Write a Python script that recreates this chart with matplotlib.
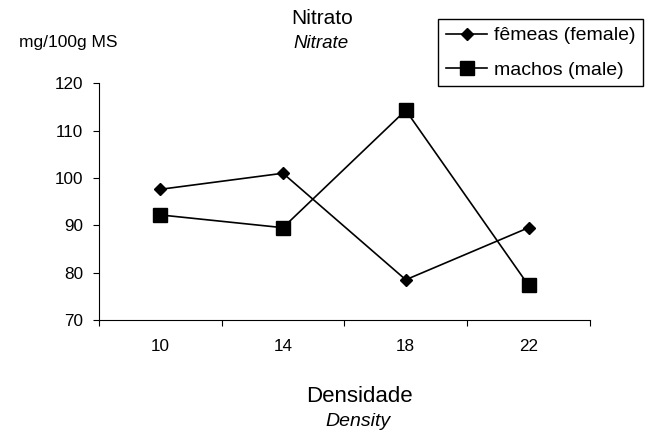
import matplotlib
matplotlib.use("Agg")
import matplotlib.pyplot as plt

plt.rcParams["font.family"] = ["Liberation Sans", "DejaVu Sans"]

# data
densidade = ["10", "14", "18", "22"]
femeas = [97.6, 101.0, 78.5, 89.5]
machos = [92.2, 89.5, 114.3, 77.3]
y_ticks = [70, 80, 90, 100, 110, 120]

W, H = 649, 430
fig = plt.figure(figsize=(W / 100, H / 100), dpi=100)

# axes box in pixels: left 98.7, right 590, top 83.3, bottom 320
L, R, T, B = 98.7, 590, 83.3, 320
ax = fig.add_axes([L / W, 1 - B / H, (R - L) / W, (B - T) / H])

x = [i + 0.5 for i in range(len(densidade))]
ax.plot(x, femeas, color="black", lw=1.2, marker="D", ms=6.2,
        label="fêmeas (female)")
ax.plot(x, machos, color="black", lw=1.2, marker="s", ms=9.5,
        label="machos (male)")

ax.set_xlim(0, len(densidade))
ax.set_ylim(70, 120)
ax.set_yticks(y_ticks)

# category axis: tick marks between categories, labels in the middle
ax.set_xticks(range(len(densidade) + 1))
ax.set_xticklabels([])
ax.set_xticks(x, minor=True)
ax.set_xticklabels(densidade, minor=True)
ax.tick_params(axis="x", which="major", direction="out", length=4, width=0.8)
ax.tick_params(axis="x", which="minor", length=0, pad=14, labelsize=12.3)
ax.tick_params(axis="y", direction="out", length=4.3, width=0.8, pad=7,
               labelsize=12.3)

for s in ["top", "right"]:
    ax.spines[s].set_visible(False)
for s in ["left", "bottom"]:
    ax.spines[s].set_linewidth(0.8)

def px(xp, yp):
    return xp / W, 1 - yp / H

fig.text(*px(322, 18), "Nitrato", ha="center", va="center", fontsize=15)
fig.text(*px(321, 43), "Nitrate", ha="center", va="center", fontsize=13.5,
         style="italic")
fig.text(*px(68, 42), "mg/100g MS", ha="center", va="center", fontsize=12.5)
fig.text(*px(359, 397), "Densidade", ha="center", va="center", fontsize=16)
fig.text(*px(358, 421), "Density", ha="center", va="center", fontsize=14,
         style="italic")

leg = fig.legend(loc="upper right", bbox_to_anchor=px(643, 19),
                 bbox_transform=fig.transFigure, borderaxespad=0,
                 fancybox=False, edgecolor="black", framealpha=1,
                 fontsize=14, numpoints=1, handlelength=2.1,
                 handletextpad=0.35, labelspacing=0.85, borderpad=0.4)
leg.get_frame().set_linewidth(1.0)

fig.savefig("out.png", dpi=100)
